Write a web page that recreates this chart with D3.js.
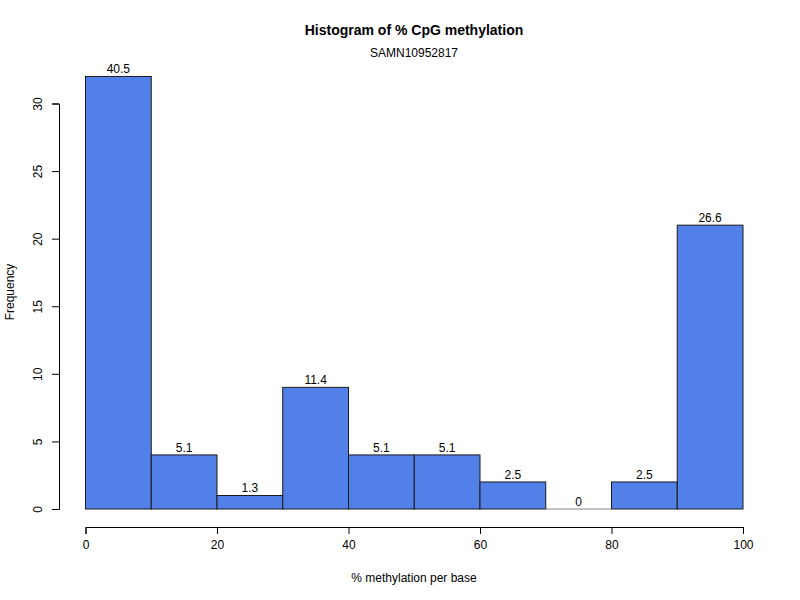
<!DOCTYPE html>
<html>
<head>
<meta charset="utf-8">
<script src="https://cdn.jsdelivr.net/npm/d3@7"></script>
<style>
  body { margin: 0; background: #fff; }
  text { font-family: "Liberation Sans", Arial, sans-serif; fill: #000; }
</style>
</head>
<body>
<div id="container"></div>
<script>
const w = 800;
const h = 600;

// bin edges and counts
const binStarts = [0, 10, 20, 30, 40, 50, 60, 70, 80, 90];
const binWidth = 10;
const counts = [32, 4, 1, 9, 4, 4, 2, 0, 2, 21];
const pctLabels = ['40.5', '5.1', '1.3', '11.4', '5.1', '5.1', '2.5', '0', '2.5', '26.6'];
const xTicks = [0, 20, 40, 60, 80, 100];
const yTicks = [0, 5, 10, 15, 20, 25, 30];

const svg = d3.select('#container')
  .append('svg')
  .attr('width', w)
  .attr('height', h);

const x = d3.scaleLinear().domain([0, 100]).range([85.5, 743]);
const y = d3.scaleLinear().domain([0, 30]).range([509, 103.5]);

// bars
svg.append('g')
  .selectAll('rect')
  .data(binStarts)
  .join('rect')
    .attr('x', (d, i) => x(d))
    .attr('y', (d, i) => y(counts[i]))
    .attr('width', d => x(d + binWidth) - x(d))
    .attr('height', (d, i) => y(0) - y(counts[i]))
    .attr('fill', '#5280E9')
    .attr('stroke', '#1a1a1a')
    .attr('stroke-width', 1);

// empty bin baseline
svg.append('g')
  .selectAll('line')
  .data(binStarts.filter((d, i) => counts[i] === 0))
  .join('line')
    .attr('x1', d => x(d))
    .attr('x2', d => x(d + binWidth))
    .attr('y1', y(0))
    .attr('y2', y(0))
    .attr('stroke', '#888');

// percentage labels
svg.append('g')
  .selectAll('text')
  .data(binStarts)
  .join('text')
    .attr('x', d => x(d + binWidth / 2))
    .attr('y', (d, i) => y(counts[i]) - 3)
    .attr('text-anchor', 'middle')
    .attr('font-size', 12)
    .text((d, i) => pctLabels[i]);

// x axis
const xAxis = d3.axisBottom(x).tickValues(xTicks).tickSize(7).tickPadding(6);
const gx = svg.append('g')
  .attr('transform', 'translate(0,527)')
  .call(xAxis);
gx.select('.domain').attr('stroke', '#000');
gx.selectAll('.tick line').attr('stroke', '#000');
gx.selectAll('.tick text').attr('font-size', 12).attr('font-family', '"Liberation Sans", Arial, sans-serif').attr('fill', '#000');

// y axis
const yAxis = d3.axisLeft(y).tickValues(yTicks).tickSize(7).tickPadding(6);
const gy = svg.append('g')
  .attr('transform', 'translate(59,0)')
  .call(yAxis);
gy.select('.domain').attr('stroke', '#000');
gy.selectAll('.tick line').attr('stroke', '#000');
gy.selectAll('.tick text')
  .attr('font-size', 12)
  .attr('font-family', '"Liberation Sans", Arial, sans-serif')
  .attr('fill', '#000')
  .attr('x', null)
  .attr('dy', null)
  .attr('text-anchor', 'middle')
  .attr('transform', 'translate(-17,0) rotate(-90)');

// titles
svg.append('text')
  .attr('x', 414)
  .attr('y', 35)
  .attr('text-anchor', 'middle')
  .attr('font-size', 14)
  .attr('font-weight', 'bold')
  .text('Histogram of % CpG methylation');

svg.append('text')
  .attr('x', 414)
  .attr('y', 57)
  .attr('text-anchor', 'middle')
  .attr('font-size', 12)
  .text('SAMN10952817');

svg.append('text')
  .attr('x', 414)
  .attr('y', 582)
  .attr('text-anchor', 'middle')
  .attr('font-size', 12)
  .text('% methylation per base');

svg.append('text')
  .attr('transform', 'translate(14,292) rotate(-90)')
  .attr('text-anchor', 'middle')
  .attr('font-size', 12)
  .text('Frequency');
</script>
</body>
</html>
